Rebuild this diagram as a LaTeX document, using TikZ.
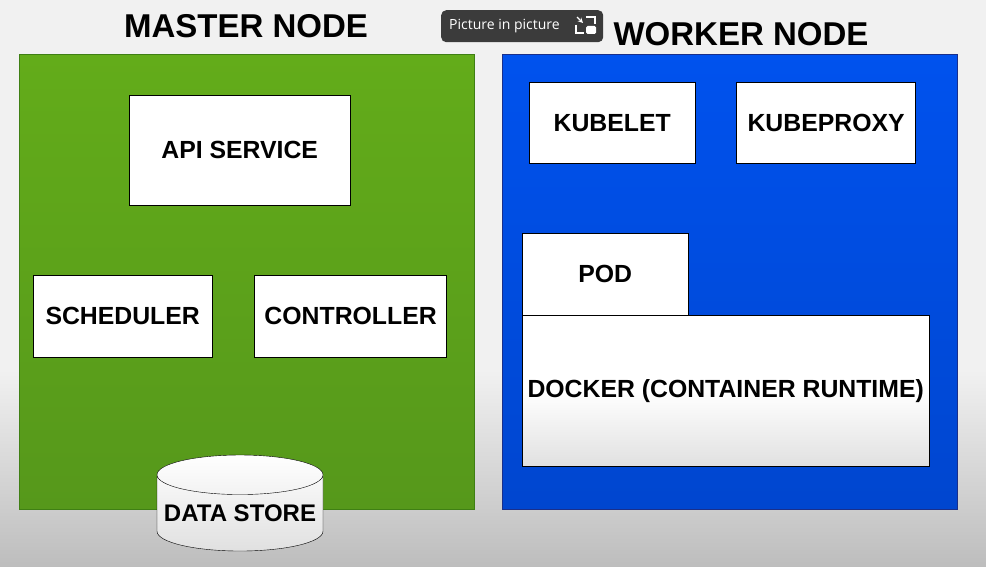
\documentclass[tikz,border=0pt]{standalone}
\usepackage{fontspec}
\setmainfont{Liberation Sans}
\newfontfamily\pipfont{Open Sans}
\usetikzlibrary{positioning,shapes.geometric}
\definecolor{bgtop}{HTML}{F1F1F1}
\definecolor{bgbot}{HTML}{BDBDBD}
\definecolor{greentop}{HTML}{63AC1A}
\definecolor{greenbot}{HTML}{56981B}
\definecolor{greenedge}{HTML}{3F7F14}
\definecolor{bluetop}{HTML}{0052EE}
\definecolor{bluebot}{HTML}{0046CF}
\definecolor{blueedge}{HTML}{1A2F8A}
\definecolor{pipgray}{HTML}{3B3B3B}
\begin{document}
\begin{tikzpicture}[x=1pt,y=-1pt]
  \tikzstyle{every node}=[inner sep=0pt]
  \tikzstyle{box}=[draw=black,fill=white,anchor=north west,font=\bfseries\fontsize{24.8}{24.8}\selectfont]
  \tikzstyle{title}=[font=\bfseries\fontsize{33}{33}\selectfont]
  \tikzstyle{area}=[anchor=north west,minimum width=455,minimum height=455]
  \useasboundingbox (0,0) rectangle (986,567);
  \fill [bgtop] (0,0) rectangle (986,567);
  \shade [top color=bgtop,bottom color=bgbot] (0,370) rectangle (986,567);

  \node [title] (mastertitle) at (246,26) {MASTER NODE};
  \node [title] (workertitle) at (741,34) {WORKER NODE};

  \node [area,draw=greenedge,top color=greentop,bottom color=greenbot] (master) at (19,54) {};
  \node [area,draw=blueedge,top color=bluetop,bottom color=bluebot] (worker) at (502,54) {};

  \node [box,minimum width=221,minimum height=110] (api) at (129,95) {API SERVICE};
  \node [box,minimum width=179,minimum height=82] (sched) at (33,275) {SCHEDULER};
  \node [box,minimum width=192,minimum height=82,right=42 of sched] (ctrl) {CONTROLLER};
  \node [cylinder,shape border rotate=90,aspect=0.26,draw=black,
         top color=white,bottom color=black!12,minimum width=166,minimum height=96,
         font=\bfseries\fontsize{24}{24}\selectfont] (store) at (240,513) {DATA STORE};

  \node [box,minimum width=166,minimum height=81] (kubelet) at (529,82) {KUBELET};
  \node [box,minimum width=179,minimum height=81,right=41 of kubelet] (kubeproxy) {KUBEPROXY};
  \node [box,minimum width=166,minimum height=82] (pod) at (522,233) {POD};
  \node [box,minimum width=407,minimum height=151,top color=white,bottom color=black!12,
         middle color=white] (docker) at (pod.south west) {DOCKER (CONTAINER RUNTIME)};

  \node [fill=pipgray,rounded corners=5,anchor=north west,minimum width=162,minimum height=32] (pip) at (441,10) {};
  \node [anchor=west,text=white,font=\pipfont\fontsize{14}{14}\selectfont] (piptext) at (449,26) {Picture in picture};
  \draw [white,line width=1.3,->,>=stealth] (577,17) -- (583,23);
  \draw [white,line width=1.3] (586,17) -- (595,17) -- (595,24);
  \draw [white,line width=1.3] (576,25) -- (576,33) -- (584,33);
  \fill [white,rounded corners=1.5] (586,26) rectangle (596,34);
\end{tikzpicture}
\end{document}
